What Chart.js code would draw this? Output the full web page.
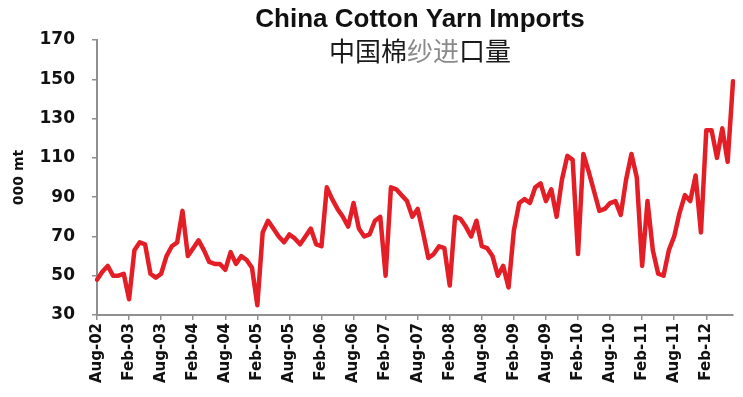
<!DOCTYPE html>
<html>
<head>
<meta charset="utf-8">
<script src="https://cdn.jsdelivr.net/npm/chart.js@4.4.1/dist/chart.umd.min.js"></script>
<style>
    html, body { margin: 0; padding: 0; background: #fff; }
</style>
</head>
<body>
<canvas id="yarn-canvas" width="743" height="397"></canvas>
<script>
'use strict';

// monthly imports, '000 mt, Aug-02 .. Jul-12
const imports2002 = [48, 52, 55, 50, 50];
const imports2003 = [51, 38, 63, 67, 66, 51, 49, 51, 60, 65, 67, 83];
const imports2004 = [60, 64, 68, 63, 57, 56, 56, 53, 62, 56, 60, 58];
const imports2005 = [54, 35, 72, 78, 74, 70, 67, 71, 69, 66, 70, 74];
const imports2006 = [66, 65, 95, 89, 84, 80, 75, 87, 74, 70, 71, 78];
const imports2007 = [80, 50, 95, 94, 91, 88, 80, 84, 72, 59, 61, 65];
const imports2008 = [64, 45, 80, 79, 75, 70, 78, 65, 64, 60, 50, 55];
const imports2009 = [44, 73, 87, 89, 87, 95, 97, 88, 94, 80, 99, 111];
const imports2010 = [109, 61, 112, 103, 93, 83, 84, 87, 88, 81, 99, 112];
const imports2011 = [100, 55, 88, 63, 51, 50, 63, 70, 82, 91, 88, 101];
const imports2012 = [72, 124, 124, 110, 125, 108, 149];

const monthNames = ['Jan', 'Feb', 'Mar', 'Apr', 'May', 'Jun', 'Jul', 'Aug', 'Sep', 'Oct', 'Nov', 'Dec'];
const yearRows = [
    [2002, imports2002], [2003, imports2003], [2004, imports2004], [2005, imports2005],
    [2006, imports2006], [2007, imports2007], [2008, imports2008], [2009, imports2009],
    [2010, imports2010], [2011, imports2011], [2012, imports2012]
];

const yMin = 30;
const yMax = 170;
const yStep = 20;
const labelEvery = 6;

const titleText = 'China Cotton Yarn Imports';
const subtitleParts = [['中国棉', '#1a1a1a'], ['纱进', '#8a8a8a'], ['口量', '#1a1a1a']];
const yAxisTitle = '000 mt';

// build category labels and the series from the yearly rows
let labels = [];
let imports = [];
for (let r = 0; r < yearRows.length; r++) {
    let year = yearRows[r][0];
    let vals = yearRows[r][1];
    let startMonth = r === 0 ? 12 - vals.length : 0;
    for (let k = 0; k < vals.length; k++) {
        labels.push(monthNames[startMonth + k] + '-' + String(year).slice(2));
        imports.push(vals[k]);
    }
}

const lineColor = 'rgb(228, 30, 38)';
const axisColor = '#8f8f8f';
const textColor = '#111';

// title and subtitle sit over the plot, so draw them by hand
const titlePlugin = {
    id: 'yarnTitle',
    afterDraw(chart) {
        let ctx = chart.ctx;
        let area = chart.chartArea;
        let cx = (area.left + area.right) / 2 + 5;
        ctx.save();
        ctx.textBaseline = 'middle';
        ctx.textAlign = 'center';
        ctx.fillStyle = textColor;
        ctx.font = 'bold 26px "Liberation Sans", sans-serif';
        ctx.fillText(titleText, cx, 20);

        ctx.font = '26px "Noto Sans CJK SC", sans-serif';
        ctx.textAlign = 'left';
        let total = 0;
        for (let p of subtitleParts) total += ctx.measureText(p[0]).width;
        let x = cx - total / 2;
        for (let p of subtitleParts) {
            ctx.fillStyle = p[1];
            ctx.fillText(p[0], x, 51);
            x += ctx.measureText(p[0]).width;
        }
        ctx.restore();
    }
};

let ctx = document.getElementById('yarn-canvas');
let chart = new Chart(ctx, {
    type: 'line',
    data: {
        labels: labels,
        datasets: [{
            data: imports,
            borderColor: lineColor,
            borderWidth: 4.5,
            pointRadius: 0,
            tension: 0,
            borderJoinStyle: 'round',
            borderCapStyle: 'round'
        }]
    },
    options: {
        responsive: false,
        animation: false,
        devicePixelRatio: 1,
        layout: {
            padding: { top: 40, right: 10, left: 0, bottom: 0 }
        },
        plugins: {
            legend: { display: false },
            tooltip: { enabled: false }
        },
        scales: {
            x: {
                offset: false,
                grid: {
                    drawOnChartArea: false,
                    drawTicks: true,
                    tickLength: 5,
                    color: axisColor,
                    lineWidth: 1.5
                },
                border: { color: axisColor, width: 2 },
                ticks: {
                    autoSkip: false,
                    maxRotation: 90,
                    minRotation: 90,
                    padding: 3,
                    color: textColor,
                    font: { family: '"DejaVu Sans"', size: 15, weight: 'bold' }
                },
                afterBuildTicks: function (scale) {
                    scale.ticks = scale.ticks.filter(t => t.value % labelEvery === 0);
                },
                afterFit: function (scale) {
                    scale.height = 82;
                }
            },
            y: {
                min: yMin,
                max: yMax,
                grid: {
                    drawOnChartArea: false,
                    drawTicks: true,
                    tickLength: 5,
                    color: axisColor,
                    lineWidth: 1.5
                },
                border: { color: axisColor, width: 2 },
                ticks: {
                    stepSize: yStep,
                    padding: 17,
                    color: textColor,
                    font: { family: '"DejaVu Sans"', size: 17, weight: 'bold' }
                },
                title: {
                    display: true,
                    text: yAxisTitle,
                    color: textColor,
                    padding: { top: 11, bottom: 0 },
                    font: { family: '"DejaVu Sans"', size: 14, weight: 'bold' }
                },
                afterFit: function (scale) {
                    scale.width = 97;
                }
            }
        }
    },
    plugins: [titlePlugin]
});
</script>
</body>
</html>
